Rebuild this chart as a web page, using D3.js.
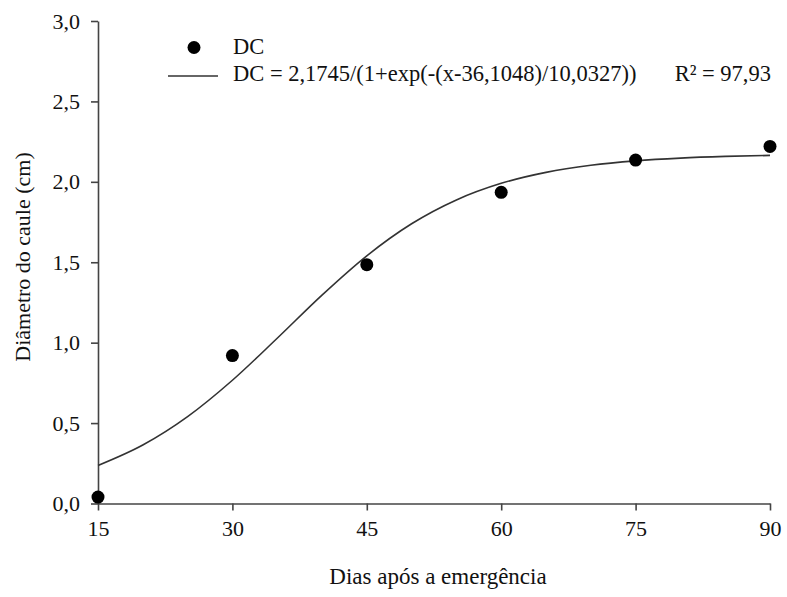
<!DOCTYPE html>
<html><head><meta charset="utf-8">
<script src="https://cdn.jsdelivr.net/npm/d3@7"></script>
<style>body{margin:0;background:#fff}svg{display:block}</style>
</head><body>
<script>
// Observed data
const days = [15, 30, 45, 60, 75, 90];
const dcValues = [0.04, 0.92, 1.485, 1.935, 2.135, 2.22];
// Fitted curve
const curveDays = [15, 20, 25, 30, 35, 40, 45, 50, 55, 60, 65, 70, 75, 80, 85, 90];
const curveValues = [0.2365, 0.3637, 0.5402, 0.7663, 1.0275, 1.2957, 1.5400, 1.7392, 1.8874, 1.9906, 2.0589, 2.1028, 2.1304, 2.1475, 2.1580, 2.1644];
const xTicks = [15, 30, 45, 60, 75, 90];
const yTicks = [0, 0.5, 1.0, 1.5, 2.0, 2.5, 3.0];
const legendPoint = "DC";
const legendLine = "DC = 2,1745/(1+exp(-(x-36,1048)/10,0327))";
const r2Text = "R² = 97,93";
const xTitle = "Dias após a emergência";
const yTitle = "Diâmetro do caule (cm)";

const FONT = "'Liberation Serif'";
const W = 787, H = 597;
const svg = d3.select("body").append("svg").attr("width", W).attr("height", H);
const x = d3.scaleLinear().domain([15, 90]).range([98, 770]);
const y = d3.scaleLinear().domain([0, 3]).range([503.5, 21]);
const fmt = d => d3.format(".1f")(d).replace(".", ",");

const gx = svg.append("g").attr("transform", "translate(0,503.5)")
  .call(d3.axisBottom(x).tickValues(xTicks).tickSize(7).tickPadding(10).tickSizeOuter(0));
const gy = svg.append("g").attr("transform", "translate(98,0)")
  .call(d3.axisLeft(y).tickValues(yTicks).tickSize(7).tickPadding(11).tickFormat(fmt).tickSizeOuter(0));
[gx, gy].forEach(g => {
  g.selectAll("path,line").attr("stroke", "#444").attr("stroke-width", 1.6);
  g.selectAll("text").style("font-family", FONT).style("font-size", "22px").attr("fill", "#111");
});

function label(sel, size) {
  return sel.style("font-family", FONT).style("font-size", (size || 22) + "px").attr("fill", "#111");
}

label(svg.append("text").attr("x", 438).attr("y", 584).attr("text-anchor", "middle"), 23).text(xTitle);
label(svg.append("text").attr("transform", "translate(30,257) rotate(-90)")
  .attr("text-anchor", "middle"), 22).text(yTitle);

const line = d3.line().x(d => x(d[0])).y(d => y(d[1])).curve(d3.curveMonotoneX);
svg.append("path").datum(curveDays.map((d, i) => [d, curveValues[i]]))
  .attr("d", line).attr("fill", "none").attr("stroke", "#333").attr("stroke-width", 1.6);

svg.selectAll("circle.pt").data(days).enter().append("circle").attr("class", "pt")
  .attr("cx", d => x(d)).attr("cy", (d, i) => y(dcValues[i])).attr("r", 6.5).attr("fill", "#000");

// legend
svg.append("circle").attr("cx", 194).attr("cy", 47.5).attr("r", 6.5).attr("fill", "#000");
label(svg.append("text").attr("x", 233).attr("y", 54), 22.5).text(legendPoint);
svg.append("line").attr("x1", 168).attr("x2", 218).attr("y1", 76).attr("y2", 76)
  .attr("stroke", "#333").attr("stroke-width", 1.6);
label(svg.append("text").attr("x", 233).attr("y", 80.5), 22.5).text(legendLine);
label(svg.append("text").attr("x", 771).attr("y", 80.5).attr("text-anchor", "end"), 22.5).text(r2Text);
</script>
</body></html>
